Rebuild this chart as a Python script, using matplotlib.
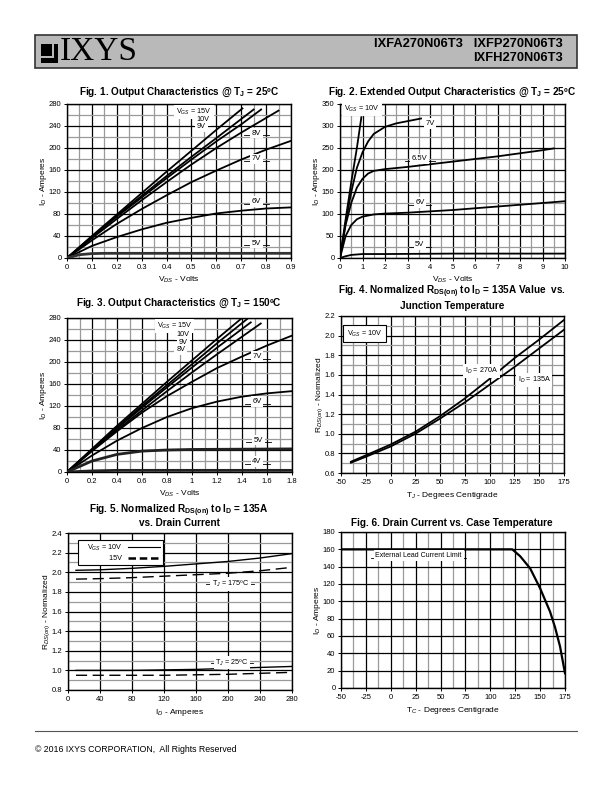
import matplotlib
matplotlib.use("Agg")
import matplotlib.pyplot as plt
from matplotlib.patches import Rectangle
from matplotlib.lines import Line2D
import numpy as np

plt.rcParams['font.family'] = ['Liberation Sans', 'DejaVu Sans']
plt.rcParams['mathtext.fontset'] = 'custom'
plt.rcParams['mathtext.rm'] = 'Liberation Sans'
plt.rcParams['mathtext.it'] = 'Liberation Sans:italic'
plt.rcParams['mathtext.bf'] = 'Liberation Sans:bold'
plt.rcParams['axes.unicode_minus'] = False

# ---------------- DATA ----------------
# Fig 1: Output characteristics @ Tj = 25C
f1_v15 = [0, 0.1, 0.2, 0.3, 0.4, 0.5, 0.6, 0.705]
f1_i15 = [0, 40, 79, 118, 157, 195, 233, 272]
f1_v10 = [0, 0.1, 0.2, 0.3, 0.4, 0.5, 0.6, 0.75]
f1_i10 = [0, 39, 77, 113, 149, 184, 218, 270]
f1_v9 = [0, 0.1, 0.2, 0.3, 0.4, 0.5, 0.6, 0.7, 0.78]
f1_i9 = [0, 38, 75, 110, 145, 179, 212, 243, 270]
f1_v8 = [0, 0.1, 0.2, 0.3, 0.4, 0.5, 0.6, 0.7, 0.85]
f1_i8 = [0, 36, 71, 105, 138, 170, 200, 228, 268]
f1_v7 = [0, 0.1, 0.2, 0.3, 0.4, 0.5, 0.6, 0.7, 0.8, 0.9]
f1_i7 = [0, 32, 62, 89, 114, 138, 159, 179, 197, 213]
f1_v6 = [0, 0.1, 0.2, 0.3, 0.4, 0.5, 0.6, 0.7, 0.8, 0.9]
f1_i6 = [0, 22, 38, 52, 64, 73, 81, 86, 90, 92]
f1_v5 = [0, 0.05, 0.1, 0.15, 0.9]
f1_i5 = [0, 6, 8, 8.5, 8.5]

# Fig 2: Extended output characteristics @ Tj = 25C
f2_v10 = [0, 0.25, 0.5, 0.75, 0.95]
f2_i10 = [0, 88, 172, 250, 320]
f2_v7 = [0, 0.25, 0.5, 0.75, 1.0, 1.25, 1.5, 2.0, 2.5, 3.0, 3.6]
f2_i7 = [0, 80, 150, 205, 240, 265, 282, 298, 306, 311, 317]
f2_v65 = [0, 0.25, 0.5, 0.75, 1.0, 1.25, 1.5, 2.0, 3.0, 4.0, 5.0, 6.0, 7.0, 8.0, 9.0, 9.5]
f2_i65 = [0, 75, 125, 160, 180, 192, 198, 202, 207, 213, 219, 225, 231, 238, 245, 249]
f2_v6 = [0, 0.25, 0.5, 0.75, 1.0, 1.5, 2.0, 3.0, 4.0, 5.0, 6.0, 7.0, 8.0, 9.0, 10.0]
f2_i6 = [0, 50, 75, 88, 94, 99, 101, 103, 106, 109, 113, 117, 121, 125, 129]
f2_v5 = [0, 0.25, 0.5, 1.0, 2.0, 5.0, 10.0]
f2_i5 = [0, 4, 7, 9, 9, 10, 10]

# Fig 3: Output characteristics @ Tj = 150C
f3_v15 = [0, 0.2, 0.4, 0.6, 0.8, 1.0, 1.2, 1.40]
f3_i15 = [0, 42, 84, 124, 164, 203, 242, 280]
f3_v10 = [0, 0.2, 0.4, 0.6, 0.8, 1.0, 1.2, 1.44]
f3_i10 = [0, 41, 81, 120, 158, 196, 234, 278]
f3_v9 = [0, 0.2, 0.4, 0.6, 0.8, 1.0, 1.2, 1.47]
f3_i9 = [0, 40, 79, 117, 154, 190, 226, 272]
f3_v8 = [0, 0.2, 0.4, 0.6, 0.8, 1.0, 1.2, 1.55]
f3_i8 = [0, 39, 76, 112, 147, 181, 214, 270]
f3_v7 = [0, 0.2, 0.4, 0.6, 0.8, 1.0, 1.2, 1.4, 1.6, 1.8]
f3_i7 = [0, 38, 74, 108, 138, 164, 189, 210, 230, 248]
f3_v6 = [0, 0.2, 0.4, 0.6, 0.8, 1.0, 1.2, 1.4, 1.6, 1.8]
f3_i6 = [0, 30, 57, 80, 100, 116, 128, 137, 143, 147]
f3_v5 = [0, 0.2, 0.4, 0.6, 0.8, 1.0, 1.8]
f3_i5 = [0, 20, 32, 38, 40, 41, 42]
f3_v4 = [0, 0.2, 0.4, 1.8]
f3_i4 = [0, 2, 3, 3]

# Fig 4: Normalized RDS(on) vs junction temperature
f4_tj = [-40, -25, 0, 25, 50, 75, 100, 125, 150, 175]
f4_r270 = [0.715, 0.78, 0.89, 1.02, 1.18, 1.36, 1.56, 1.77, 1.96, 2.16]
f4_r135 = [0.705, 0.765, 0.87, 1.00, 1.155, 1.32, 1.50, 1.68, 1.87, 2.06]

# Fig 5: Normalized RDS(on) vs drain current
f5_id = [10, 40, 80, 120, 160, 200, 240, 280]
f5_175_10v = [2.02, 2.025, 2.04, 2.06, 2.085, 2.11, 2.145, 2.19]
f5_175_15v = [1.93, 1.935, 1.945, 1.96, 1.975, 1.99, 2.015, 2.05]
f5_25_10v = [1.00, 1.00, 1.00, 1.005, 1.01, 1.02, 1.03, 1.04]
f5_25_15v = [0.95, 0.95, 0.95, 0.95, 0.955, 0.96, 0.97, 0.98]

# Fig 6: Drain current vs case temperature
f6_tc = [-50, 122, 130, 140, 150, 160, 165, 170, 175]
f6_id = [160, 160, 152, 138, 115, 88, 70, 48, 17]

# ---------------- LAYOUT ----------------
W, H = 612, 792
fig = plt.figure(figsize=(W / 100, H / 100), dpi=100)


def rect(l, t, r, b):
    return [l / W, 1 - b / H, (r - l) / W, (b - t) / H]


def fx(x):
    return x / W


def fy(y):
    return 1 - y / H


TICK = 5.5
LBL = 6.0
TTL = 7.2


def setup(ax, xlim, ylim, xmaj, ymaj, xmin=None, ymin=None, xfmt=None, yfmt=None):
    ax.set_xlim(*xlim)
    ax.set_ylim(*ylim)
    ax.set_xticks(xmaj)
    ax.set_yticks(ymaj)
    if xfmt:
        ax.set_xticklabels(xfmt)
    if yfmt:
        ax.set_yticklabels(yfmt)
    if xmin is not None:
        ax.set_xticks(xmin, minor=True)
    if ymin is not None:
        ax.set_yticks(ymin, minor=True)
    ax.grid(which='major', color='black', lw=0.9, zorder=0)
    ax.grid(which='minor', color='#9a9a9a', lw=0.9, zorder=0)
    ax.set_axisbelow(True)
    ax.tick_params(which='major', labelsize=TICK, length=2, width=0.7, pad=2)
    ax.tick_params(which='minor', length=0)
    for s in ax.spines.values():
        s.set_linewidth(1.0)


def lab(ax, x, y, text, dx, fs=5.5, dy=0.0):
    ax.plot([x - dx, x + dx], [y + dy, y + dy], color='black', lw=0.6, zorder=4)
    ax.text(x, y, text, ha='center', va='center', fontsize=fs, zorder=5,
            bbox=dict(fc='white', ec='none', pad=1.2))


def txt(ax, x, y, text, fs=5.5, ha='center'):
    ax.text(x, y, text, ha=ha, va='center', fontsize=fs, zorder=5,
            bbox=dict(fc='white', ec='none', pad=1.5))


LW = 1.3

# ---- Header ----
fig.patches.append(Rectangle((fx(35), fy(68)), (577 - 35) / W, (68 - 35) / H,
                             transform=fig.transFigure, fc='#b9b9b9', ec='#333333', lw=1.2))
fig.patches.append(Rectangle((fx(41), fy(63)), 17 / W, 19 / H, transform=fig.transFigure,
                             fc='black', ec='none'))
fig.patches.append(Rectangle((fx(52), fy(57)), 1.6 / W, 13 / H, transform=fig.transFigure,
                             fc='#b9b9b9', ec='none'))
fig.patches.append(Rectangle((fx(41), fy(57.5)), 12.5 / W, 1.6 / H, transform=fig.transFigure,
                             fc='#b9b9b9', ec='none'))
fig.text(fx(60), fy(52), "IXYS", fontsize=24, family=['Liberation Serif', 'DejaVu Serif'],
         ha='left', va='center')
fig.text(fx(563), fy(44), "IXFA270N06T3   IXFP270N06T3", fontsize=9.3, fontweight='bold',
         ha='right', va='center')
fig.text(fx(563), fy(58), "IXFH270N06T3", fontsize=9.3, fontweight='bold',
         ha='right', va='center')

# ---- Footer ----
fig.add_artist(Line2D([fx(35), fx(577)], [fy(731), fy(731)], color='#555555', lw=0.8))
fig.text(fx(35), fy(750), "© 2016 IXYS CORPORATION,  All Rights Reserved", fontsize=6.3,
         ha='left', va='center')

# ---- Fig 1 ----
ax1 = fig.add_axes(rect(67, 104, 291, 258))
setup(ax1, (0, 0.9), (0, 280), np.arange(0, 0.91, 0.1), np.arange(0, 281, 40),
      np.arange(0.05, 0.9, 0.1), np.arange(20, 280, 40),
      xfmt=['0', '0.1', '0.2', '0.3', '0.4', '0.5', '0.6', '0.7', '0.8', '0.9'])
for v, i, lw in [(f1_v15, f1_i15, LW), (f1_v10, f1_i10, LW), (f1_v9, f1_i9, LW),
                 (f1_v8, f1_i8, LW), (f1_v7, f1_i7, LW), (f1_v6, f1_i6, LW),
                 (f1_v5, f1_i5, 2.0)]:
    ax1.plot(v, i, color='black' if lw == LW else '#333333', lw=lw, zorder=3)
txt(ax1, 0.51, 265, "V$_{GS}$ = 15V", fs=5.2)
txt(ax1, 0.545, 251, "10V", fs=5.2)
txt(ax1, 0.54, 239, "9V", fs=5.2)
lab(ax1, 0.76, 227, "8V", 0.05, dy=-4)
lab(ax1, 0.76, 180, "7V", 0.05, dy=-4)
lab(ax1, 0.76, 103, "6V", 0.05, dy=-4)
lab(ax1, 0.76, 27, "5V", 0.05, dy=-4)
ax1.set_xlabel("V$_{DS}$ - Volts", fontsize=LBL, labelpad=3)
ax1.set_ylabel("I$_D$ - Amperes", fontsize=LBL, labelpad=0)
fig.text(fx(179), fy(92), "Fig. 1. Output Characteristics @ T$_\\mathbf{J}$ = 25ºC",
         fontsize=TTL, fontweight='bold', ha='center', va='center')

# ---- Fig 2 ----
ax2 = fig.add_axes(rect(340, 104, 565, 258))
setup(ax2, (0, 10), (0, 350), np.arange(0, 11, 1), np.arange(0, 351, 50),
      np.arange(0.5, 10, 1), np.arange(25, 350, 50))
for v, i in [(f2_v10, f2_i10), (f2_v7, f2_i7), (f2_v65, f2_i65), (f2_v6, f2_i6), (f2_v5, f2_i5)]:
    ax2.plot(v, i, color='black', lw=LW, zorder=3)
txt(ax2, 0.2, 338, "V$_{GS}$ = 10V", fs=5.2, ha='left')
lab(ax2, 4.0, 306, "7V", 0.5, dy=-5)
lab(ax2, 3.55, 225, "6.5V", 0.65, dy=-5)
lab(ax2, 3.55, 126, "6V", 0.5, dy=-5)
lab(ax2, 3.55, 30, "5V", 0.5, dy=-5)
ax2.set_xlabel("V$_{DS}$ - Volts", fontsize=LBL, labelpad=3)
ax2.set_ylabel("I$_D$ - Amperes", fontsize=LBL, labelpad=0)
fig.text(fx(452), fy(92), "Fig. 2. Extended Output Characteristics @ T$_\\mathbf{J}$ = 25ºC",
         fontsize=TTL, fontweight='bold', ha='center', va='center')

# ---- Fig 3 ----
ax3 = fig.add_axes(rect(67, 318, 292, 472))
setup(ax3, (0, 1.8), (0, 280), np.arange(0, 1.81, 0.2), np.arange(0, 281, 40),
      np.arange(0.1, 1.8, 0.2), np.arange(20, 280, 40),
      xfmt=['0', '0.2', '0.4', '0.6', '0.8', '1', '1.2', '1.4', '1.6', '1.8'])
for v, i, lw in [(f3_v15, f3_i15, LW), (f3_v10, f3_i10, LW), (f3_v9, f3_i9, LW),
                 (f3_v8, f3_i8, LW), (f3_v7, f3_i7, LW), (f3_v6, f3_i6, LW),
                 (f3_v5, f3_i5, 2.0), (f3_v4, f3_i4, 2.0)]:
    ax3.plot(v, i, color='black' if lw == LW else '#222222', lw=lw, zorder=3)
txt(ax3, 0.86, 265, "V$_{GS}$ = 15V", fs=5.2)
txt(ax3, 0.93, 250, "10V", fs=5.2)
txt(ax3, 0.93, 236, "9V", fs=5.2)
txt(ax3, 0.91, 222, "8V", fs=5.2)
lab(ax3, 1.52, 210, "7V", 0.1, dy=-4)
lab(ax3, 1.52, 128, "6V", 0.1, dy=-4)
lab(ax3, 1.53, 58, "5V", 0.1, dy=-4)
lab(ax3, 1.52, 19, "4V", 0.1, dy=-4)
ax3.set_xlabel("V$_{DS}$ - Volts", fontsize=LBL, labelpad=3)
ax3.set_ylabel("I$_D$ - Amperes", fontsize=LBL, labelpad=0)
fig.text(fx(179), fy(303), "Fig. 3. Output Characteristics @ T$_\\mathbf{J}$ = 150ºC",
         fontsize=TTL, fontweight='bold', ha='center', va='center')

# ---- Fig 4 ----
ax4 = fig.add_axes(rect(341, 316, 564, 473))
setup(ax4, (-50, 175), (0.6, 2.2), np.arange(-50, 176, 25), np.arange(0.6, 2.21, 0.2),
      np.arange(-37.5, 175, 25), np.arange(0.7, 2.2, 0.2),
      yfmt=['0.6', '0.8', '1.0', '1.2', '1.4', '1.6', '1.8', '2.0', '2.2'])
ax4.plot(f4_tj, f4_r270, color='black', lw=LW, zorder=3)
ax4.plot(f4_tj, f4_r135, color='black', lw=LW, zorder=3)
ax4.text(-44, 2.02, "V$_{GS}$ = 10V", fontsize=5.2, ha='left', va='center', zorder=5,
         bbox=dict(fc='white', ec='black', lw=0.8, pad=2.5))
txt(ax4, 92, 1.64, "I$_D$ = 270A", fs=5.2)
lab(ax4, 145, 1.55, "I$_D$ = 135A", 17, fs=5.2, dy=-0.025)
ax4.set_xlabel("T$_J$ - Degrees Centigrade", fontsize=LBL, labelpad=3)
ax4.set_ylabel("R$_{DS(on)}$ - Normalized", fontsize=LBL, labelpad=0)
fig.text(fx(452), fy(292), "Fig. 4. Normalized R$_{\\mathbf{DS(on)}}$ to I$_\\mathbf{D}$ = 135A Value  vs.",
         fontsize=TTL, fontweight='bold', ha='center', va='center')
fig.text(fx(452), fy(306), "Junction Temperature",
         fontsize=TTL, fontweight='bold', ha='center', va='center')

# ---- Fig 5 ----
ax5 = fig.add_axes(rect(68, 533, 292, 690))
setup(ax5, (0, 280), (0.8, 2.4), np.arange(0, 281, 40), np.arange(0.8, 2.41, 0.2),
      None, np.arange(0.9, 2.4, 0.2),
      yfmt=['0.8', '1.0', '1.2', '1.4', '1.6', '1.8', '2.0', '2.2', '2.4'])
ax5.plot(f5_id, f5_175_10v, color='black', lw=1.0, zorder=3)
ax5.plot(f5_id, f5_175_15v, color='black', lw=1.0, ls=(0, (8, 4)), zorder=3)
ax5.plot(f5_id, f5_25_10v, color='black', lw=1.0, zorder=3)
ax5.plot(f5_id, f5_25_15v, color='black', lw=1.0, ls=(0, (8, 4)), zorder=3)
h10 = Line2D([], [], color='black', lw=0.8)
h15 = Line2D([], [], color='black', lw=1.8, ls=(0, (3, 1.5)))
leg = ax5.legend([h10, h15], ["V$_{GS}$ = 10V", "              15V"], loc='upper left',
                 markerfirst=False, fontsize=5.2, frameon=True, fancybox=False,
                 edgecolor='black', framealpha=1, handlelength=4.5, borderpad=0.4,
                 labelspacing=0.3, bbox_to_anchor=(0.03, 0.98), handletextpad=0.8)
leg.get_frame().set_linewidth(0.8)
leg.set_zorder(6)
lab(ax5, 203, 1.88, "T$_J$ = 175ºC", 30, fs=5.2)
lab(ax5, 205, 1.08, "T$_J$ = 25ºC", 26, fs=5.2)
ax5.set_xlabel("I$_D$ - Amperes", fontsize=LBL, labelpad=3)
ax5.set_ylabel("R$_{DS(on)}$ - Normalized", fontsize=LBL, labelpad=0)
fig.text(fx(179), fy(511), "Fig. 5. Normalized R$_{\\mathbf{DS(on)}}$ to I$_\\mathbf{D}$ = 135A",
         fontsize=TTL, fontweight='bold', ha='center', va='center')
fig.text(fx(179), fy(523), "vs. Drain Current",
         fontsize=TTL, fontweight='bold', ha='center', va='center')

# ---- Fig 6 ----
ax6 = fig.add_axes(rect(341, 532, 565, 688))
setup(ax6, (-50, 175), (0, 180), np.arange(-50, 176, 25), np.arange(0, 181, 20),
      np.arange(-37.5, 175, 25), None)
ax6.plot(f6_tc, f6_id, color='black', lw=1.6, zorder=3)
lab(ax6, 28, 153, "External Lead Current Limit", 48, fs=5.0, dy=-2.5)
ax6.set_xlabel("T$_C$ - Degrees Centigrade", fontsize=LBL, labelpad=3)
ax6.set_ylabel("I$_D$ - Amperes", fontsize=LBL, labelpad=0)
fig.text(fx(452), fy(523), "Fig. 6. Drain Current vs. Case Temperature",
         fontsize=TTL, fontweight='bold', ha='center', va='center')

fig.savefig("out.png", dpi=100)
